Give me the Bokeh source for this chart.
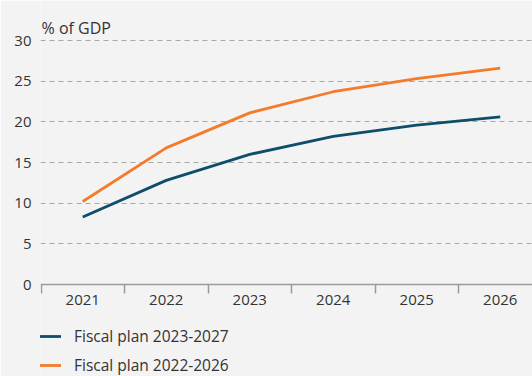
from bokeh.plotting import figure
from bokeh.models import FixedTicker, Legend, LegendItem, Label, Range1d
from bokeh.embed import file_html
from bokeh.resources import INLINE

years = [2021, 2022, 2023, 2024, 2025, 2026]
plan_2023_2027 = [8.3, 12.8, 16.0, 18.2, 19.6, 20.6]
plan_2022_2026 = [10.2, 16.8, 21.1, 23.7, 25.3, 26.6]
y_ticks = [0, 5, 10, 15, 20, 25, 30]
series_names = ["Fiscal plan 2023-2027", "Fiscal plan 2022-2026"]
unit_label = "% of GDP"

BLUE = "#0f4e6b"
ORANGE = "#f47b2c"
BG = "#f3f3f3"
FONT = "Open Sans"
TEXT = "#333333"

W, H = 532, 376
LEFT = 40
PX_PER_YEAR = 83.5
PX_PER_UNIT = (284 - 40) / 30.0
x0 = years[0] - 0.5 - 0.5 / PX_PER_YEAR
y_top = 30 + 40 / PX_PER_UNIT
y_bot = -(H - 284) / PX_PER_UNIT

p = figure(width=W, height=H, output_backend="svg", toolbar_location=None,
           x_range=Range1d(x0, x0 + (W - LEFT) / PX_PER_YEAR),
           y_range=Range1d(y_bot, y_top),
           min_border_left=LEFT, min_border_right=0, min_border_top=0, min_border_bottom=0)
p.background_fill_color = BG
p.border_fill_color = BG
p.outline_line_color = None

p.xgrid.grid_line_color = None
p.ygrid.ticker = FixedTicker(ticks=y_ticks[1:])
p.ygrid.grid_line_color = "#a8a8a8"
p.ygrid.grid_line_dash = "5 4"
p.ygrid.grid_line_width = 1.2

l1 = p.line(years, plan_2023_2027, line_color=BLUE, line_width=2.8)
l2 = p.line(years, plan_2022_2026, line_color=ORANGE, line_width=2.8)

# x axis, fixed at y = 0 inside the frame
xa = p.xaxis[0]
xa.fixed_location = 0
xa.ticker = FixedTicker(ticks=years, minor_ticks=[y - 0.5 for y in years] + [years[-1] + 0.5])
xa.major_tick_line_color = None
xa.major_tick_out = 0
xa.major_tick_in = 0
xa.minor_tick_in = 0
xa.minor_tick_out = 9
xa.minor_tick_line_color = "#9a9a9a"
xa.minor_tick_line_width = 1.5
xa.axis_line_color = "#9a9a9a"
xa.axis_line_width = 1.5
xa.major_label_standoff = 1
xa.major_label_text_font = FONT
xa.major_label_text_font_size = "15px"
xa.major_label_text_color = TEXT

# y axis
ya = p.yaxis[0]
ya.ticker = FixedTicker(ticks=y_ticks)
ya.axis_line_color = None
ya.major_tick_line_color = None
ya.minor_tick_line_color = None
ya.major_tick_out = 0
ya.major_tick_in = 0
ya.major_label_standoff = 9
ya.major_label_text_font = FONT
ya.major_label_text_font_size = "15px"
ya.major_label_text_color = TEXT

p.add_layout(Label(x=1, y=H - 27, x_units="screen", y_units="screen", text=unit_label,
                   text_font=FONT, text_font_size="16px", text_color=TEXT,
                   text_baseline="alphabetic", text_align="left"))

legend = Legend(items=[LegendItem(label=series_names[0], renderers=[l1]),
                       LegendItem(label=series_names[1], renderers=[l2])],
                location=(-1, 0), orientation="vertical",
                padding=0, margin=0, spacing=7,
                glyph_width=22, glyph_height=18, label_height=18, label_standoff=13,
                label_text_font=FONT, label_text_font_size="15.5px", label_text_color=TEXT,
                background_fill_alpha=0, border_line_alpha=0)
p.add_layout(legend, "center")

open("out.html", "w").write(file_html(p, INLINE))
